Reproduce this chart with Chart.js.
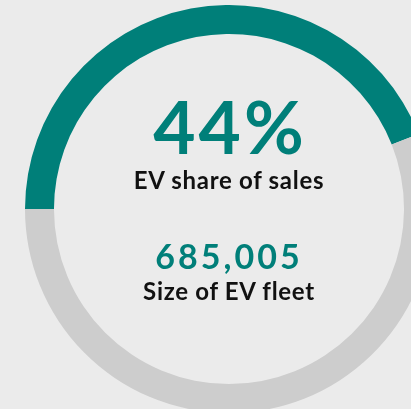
<!DOCTYPE html>
<html>
<head>
<meta charset="utf-8">
<script src="https://cdn.jsdelivr.net/npm/chart.js@4"></script>
<style>
    html, body {
        margin: 0;
        padding: 0;
        width: 411px;
        height: 409px;
        overflow: hidden;
        background: #ebebeb;
        font-family: 'Lato', sans-serif;
    }
    .ring {
        position: absolute;
        left: 25px;
        top: 5px;
        width: 408px;
        height: 408px;
    }
    .label {
        position: absolute;
        left: 129px;
        width: 200px;
        text-align: center;
        line-height: 1;
        font-weight: 700;
        white-space: nowrap;
    }
    .big { top: 90px; left: 130px; font-size: 73px; color: #007f79; letter-spacing: 3px; }
    .cap1 { top: 168px; font-size: 24px; color: #111111; letter-spacing: 0.7px; }
    .num { top: 239px; left: 129px; font-size: 34px; color: #007f79; letter-spacing: 3px; }
    .cap2 { top: 279px; font-size: 24px; color: #111111; letter-spacing: 0.7px; }
</style>
</head>
<body>
<div class="ring"><canvas id="chartEv"></canvas></div>
<div class="label big" id="txtShare"></div>
<div class="label cap1" id="txtShareLabel"></div>
<div class="label num" id="txtFleet"></div>
<div class="label cap2" id="txtFleetLabel"></div>

<script>
// dados do gráfico
const categorias = ['EV share of sales', 'Other'];
const valores = [44, 56];
const cores = ['#007f79', '#cdcdcd'];
const frotaEV = '685,005';
const frotaLabel = 'Size of EV fleet';

document.getElementById('txtShare').textContent = valores[0] + '%';
document.getElementById('txtShareLabel').textContent = categorias[0];
document.getElementById('txtFleet').textContent = frotaEV;
document.getElementById('txtFleetLabel').textContent = frotaLabel;

const ctx = document.getElementById('chartEv');
new Chart(ctx, {
    type: 'doughnut',
    data: {
        labels: categorias,
        datasets: [{
            data: valores,
            backgroundColor: cores,
            borderWidth: 0
        }]
    },
    options: {
        responsive: true,
        maintainAspectRatio: false,
        animation: false,
        rotation: -90,
        cutout: '85.8%',
        layout: { padding: 0 },
        plugins: {
            legend: { display: false },
            tooltip: { enabled: false }
        }
    }
});
</script>
</body>
</html>
